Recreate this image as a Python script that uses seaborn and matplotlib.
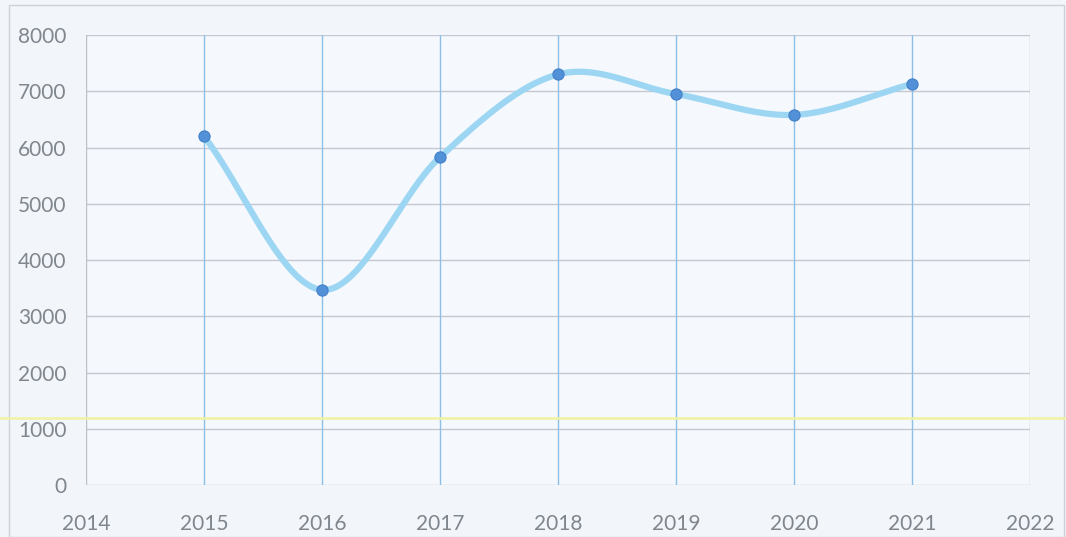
import numpy as np
import pandas as pd
import seaborn as sns
import matplotlib.pyplot as plt

# values
years = [2015, 2016, 2017, 2018, 2019, 2020, 2021]
values = [6200, 3470, 5830, 7300, 6950, 6580, 7130]
x_ticks = [2014, 2015, 2016, 2017, 2018, 2019, 2020, 2021, 2022]
y_ticks = [0, 1000, 2000, 3000, 4000, 5000, 6000, 7000, 8000]

df = pd.DataFrame({'year': years, 'value': values})

# smoothed line like the spreadsheet one (Catmull-Rom through the points)
def catmull_rom(x, y, n=40):
    x = np.asarray(x, float)
    y = np.asarray(y, float)
    px = np.concatenate([[2 * x[0] - x[1]], x, [2 * x[-1] - x[-2]]])
    py = np.concatenate([[2 * y[0] - y[1]], y, [2 * y[-1] - y[-2]]])
    xs, ys = [], []
    for i in range(1, len(px) - 2):
        t = np.linspace(0, 1, n, endpoint=False)
        for p, out in ((px, xs), (py, ys)):
            p0, p1, p2, p3 = p[i - 1], p[i], p[i + 1], p[i + 2]
            out.extend(0.5 * (2 * p1 + (-p0 + p2) * t
                              + (2 * p0 - 5 * p1 + 4 * p2 - p3) * t ** 2
                              + (-p0 + 3 * p1 - 3 * p2 + p3) * t ** 3))
    xs.append(x[-1])
    ys.append(y[-1])
    return pd.DataFrame({'year': xs, 'value': ys})

smooth = catmull_rom(years, values)

sns.set_style('white')
plt.rcParams['font.family'] = ['Lato', 'DejaVu Sans']

fig = plt.figure(figsize=(10.66, 5.37), dpi=100)
fig.patch.set_facecolor('#f2f6fb')
ax = fig.add_axes([0.0807, 0.0968, 0.8855, 0.838])
ax.set_facecolor('#f5f9fd')

# grid
for yv in y_ticks:
    ax.axhline(yv, color='#c4c8d4', lw=1.0, zorder=1)
for xv in x_ticks:
    c = '#8cc0e6' if xv in years else '#bcc0c8'
    ax.axvline(xv, color=c, lw=1.0, zorder=1)

sns.lineplot(data=smooth, x='year', y='value', ax=ax, color='#9dd6f3',
             lw=4.5, sort=False, zorder=3, solid_capstyle='round')
sns.scatterplot(data=df, x='year', y='value', ax=ax, color='#5290d8',
                s=65, edgecolor='#4280c8', linewidth=0.8, zorder=4)

ax.set_xlim(2014, 2022)
ax.set_ylim(0, 8000)
ax.set_xticks(x_ticks)
ax.set_yticks(y_ticks)
ax.set_xticklabels([str(v) for v in x_ticks])
ax.set_yticklabels([str(v) for v in y_ticks])
ax.tick_params(axis='both', length=0, labelsize=15, labelcolor='#80868e')
ax.tick_params(axis='x', pad=21)
ax.tick_params(axis='y', pad=14)
ax.set_xlabel('')
ax.set_ylabel('')
for s in ax.spines.values():
    s.set_visible(False)

# faint outer frame and the yellow scan line
fig.add_artist(plt.Rectangle((0.008, 0.0), 0.99, 0.99, fill=False,
                             edgecolor='#cdd1d8', lw=1.0, transform=fig.transFigure))
fig.add_artist(plt.Line2D([0, 1], [1 - 418 / 537] * 2, color='#f0f3a0',
                          lw=2, transform=fig.transFigure, alpha=0.9))

plt.savefig('out.png', dpi=100, facecolor=fig.get_facecolor())
